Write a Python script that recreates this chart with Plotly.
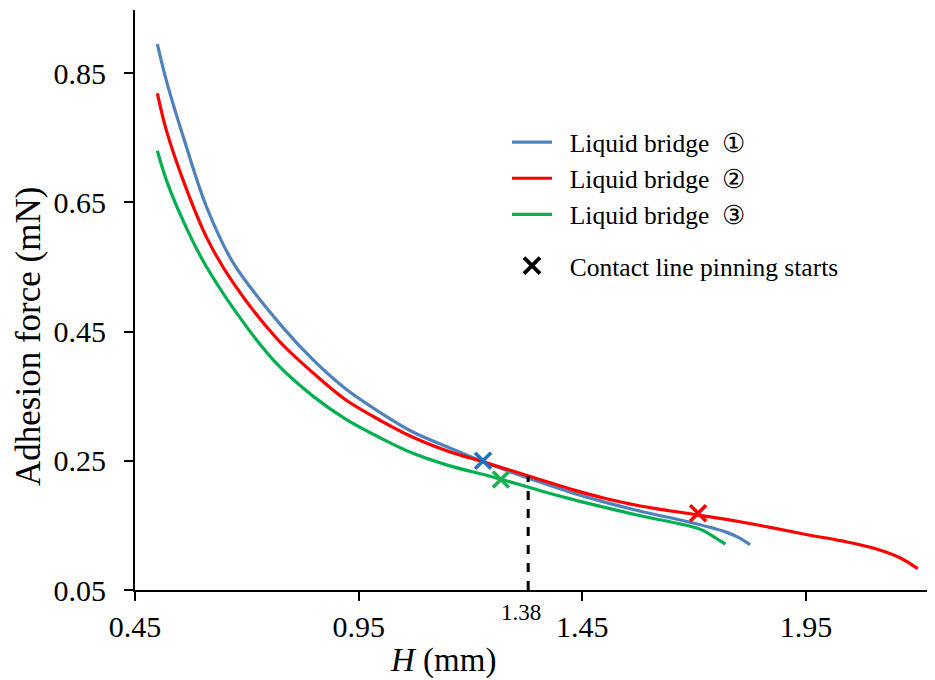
import plotly.graph_objects as go

# ---- data ----
blue_x = [0.50, 0.52, 0.56, 0.61, 0.67, 0.78, 0.85, 0.92, 1.00, 1.07, 1.15, 1.23, 1.36, 1.43, 1.50, 1.58, 1.69, 1.77, 1.80, 1.825]
blue_y = [0.895, 0.839, 0.747, 0.643, 0.556, 0.457, 0.405, 0.362, 0.324, 0.295, 0.271, 0.248, 0.216, 0.200, 0.186, 0.172, 0.155, 0.140, 0.131, 0.120]

red_x = [0.50, 0.52, 0.56, 0.61, 0.67, 0.77, 0.85, 0.92, 1.00, 1.07, 1.15, 1.23, 1.36, 1.43, 1.50, 1.58, 1.71, 1.80, 1.87, 1.95, 2.03, 2.10, 2.16, 2.20]
red_y = [0.819, 0.762, 0.680, 0.596, 0.525, 0.437, 0.385, 0.345, 0.312, 0.287, 0.265, 0.248, 0.220, 0.205, 0.192, 0.180, 0.166, 0.156, 0.147, 0.136, 0.126, 0.115, 0.100, 0.083]

green_x = [0.50, 0.52, 0.56, 0.61, 0.70, 0.77, 0.85, 0.92, 1.00, 1.07, 1.15, 1.25, 1.36, 1.43, 1.50, 1.58, 1.69, 1.72, 1.745, 1.77]
green_y = [0.730, 0.685, 0.618, 0.550, 0.457, 0.398, 0.349, 0.315, 0.285, 0.262, 0.243, 0.225, 0.203, 0.190, 0.178, 0.165, 0.149, 0.142, 0.132, 0.121]

pin_blue = (1.228, 0.250)
pin_red = (1.709, 0.169)
pin_green = (1.268, 0.221)

dash_x = [1.329, 1.329]
dash_y = [0.05, 0.226]
dash_label = "1.38"

x_ticks = [0.45, 0.95, 1.45, 1.95]
y_ticks = [0.05, 0.25, 0.45, 0.65, 0.85]

NB = "\u00a0"
series_names = [NB * 2 + "Liquid bridge" + NB * 2 + "①",
                NB * 2 + "Liquid bridge" + NB * 2 + "②",
                NB * 2 + "Liquid bridge" + NB * 2 + "③"]
pin_name = NB * 2 + "Contact line pinning starts"

FONT = "Liberation Serif, Times New Roman, serif"
C_BLUE, C_RED, C_GREEN = "#4F81BD", "#FF0000", "#00B050"
X_BLUE, X_GREEN = "#1F70C1", "#1DAF50"

fig = go.Figure()

for xs, ys, c, n in [(blue_x, blue_y, C_BLUE, series_names[0]),
                     (red_x, red_y, C_RED, series_names[1]),
                     (green_x, green_y, C_GREEN, series_names[2])]:
    fig.add_trace(go.Scatter(x=xs, y=ys, mode="lines", name=n,
                             line=dict(color=c, width=3.2, shape="spline", smoothing=1.0),
                             legendgroup="lines"))

fig.add_trace(go.Scatter(x=dash_x, y=dash_y, mode="lines", showlegend=False,
                         line=dict(color="black", width=3, dash="dash")))

for (px, py), c in [(pin_blue, X_BLUE), (pin_red, C_RED), (pin_green, X_GREEN)]:
    fig.add_trace(go.Scatter(x=[px], y=[py], mode="markers", showlegend=False,
                             marker=dict(symbol="x-thin", size=16, line=dict(color=c, width=3.5))))

fig.add_trace(go.Scatter(x=[None], y=[None], mode="markers", name=pin_name,
                         legendgroup="pin",
                         marker=dict(symbol="x-thin", size=17, color="black",
                                     line=dict(color="black", width=3.8))))

# the page body adds an 8px offset; size/margins compensate so the plot area sits at x 135-935, y 10-590
fig.update_layout(
    width=927, height=672,
    margin=dict(l=127, r=0, t=2, b=90),
    paper_bgcolor="white", plot_bgcolor="white",
    font=dict(family=FONT, color="black", size=30),
    legend=dict(x=0.465, y=0.812, xanchor="left", yanchor="top",
                font=dict(family=FONT, size=25.5, color="black"),
                bgcolor="rgba(0,0,0,0)", tracegroupgap=15, itemwidth=40),
    xaxis=dict(range=[0.45, 2.2385], tickvals=x_ticks, ticktext=[f"{v:.2f}" for v in x_ticks],
               showline=True, linecolor="black", linewidth=2, ticks="outside",
               ticklen=9, tickwidth=2, tickcolor="black", showgrid=False, zeroline=False,
               tickfont=dict(size=30), ticklabelstandoff=0),
    yaxis=dict(range=[0.05, 0.948], tickvals=y_ticks, ticktext=[f"{v:.2f}" for v in y_ticks],
               showline=True, linecolor="black", linewidth=2, ticks="outside",
               ticklen=9, tickwidth=2, tickcolor="black", showgrid=False, zeroline=False,
               tickfont=dict(size=30), ticklabelstandoff=12),
    annotations=[
        dict(text="Adhesion force (mN)", xref="paper", yref="paper",
             x=(28 - 135) / 800, y=(590 - 337) / 580, textangle=-90, showarrow=False,
             font=dict(size=35, family=FONT), xanchor="center", yanchor="middle"),
        dict(text="<i>H</i> (mm)", xref="paper", yref="paper",
             x=(443 - 135) / 800, y=-(660 - 590) / 580, showarrow=False,
             font=dict(size=33, family=FONT), xanchor="center", yanchor="middle"),
        dict(text=dash_label, xref="x", yref="paper", x=dash_x[0] - 0.016,
             y=-(612 - 590) / 580, showarrow=False,
             font=dict(size=23, family=FONT), xanchor="center", yanchor="middle"),
    ],
)

fig.write_html("out.html")
